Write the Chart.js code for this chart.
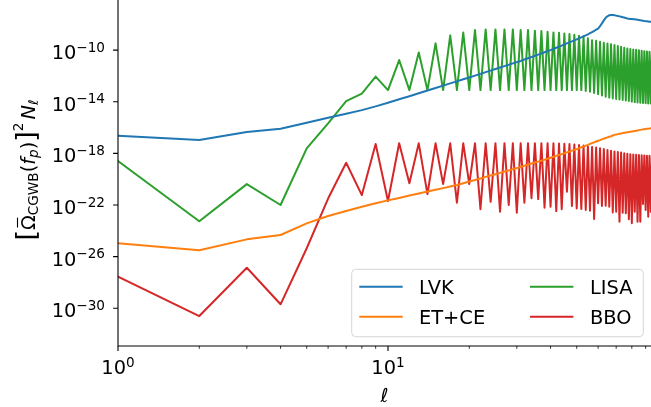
<!DOCTYPE html>
<html>
<head>
<meta charset="utf-8">
<script src="https://cdn.jsdelivr.net/npm/chart.js@4.4.1/dist/chart.umd.min.js"></script>
<style>
  body { margin: 0; background: #fff; }
  canvas { display: block; }
</style>
</head>
<body>
<canvas id="chart" width="651" height="407"></canvas>
<script>
// multipole ell
const ell = [
  1, 2, 3, 4, 5, 6, 7, 8, 9, 10,
  11, 12, 13, 14, 15, 16, 17, 18, 19, 20,
  21, 22, 23, 24, 25, 26, 27, 28, 29, 30,
  31, 32, 33, 34, 35, 36, 37, 38, 39, 40,
  41, 42, 43, 44, 45, 46, 47, 48, 49, 50,
  51, 52, 53, 54, 55, 56, 57, 58, 59, 60,
  61, 62, 63, 64, 65, 66, 67, 68, 69, 70,
  71, 72, 73, 74, 75, 76, 77, 78, 79, 80,
  81, 82, 83, 84, 85, 86, 87, 88, 89, 90,
  91, 92, 93, 94, 95
];

// log10 of [Omega_CGWB(f_p)]^2 N_ell, one value per ell
const lvkLog = [
  -16.64, -16.97, -16.35, -16.09, -15.63, -15.24, -14.93, -14.65, -14.36, -14.08,
  -13.81, -13.57, -13.34, -13.13, -12.94, -12.75, -12.58, -12.42, -12.26, -12.12,
  -11.98, -11.84, -11.71, -11.59, -11.47, -11.35, -11.24, -11.14, -11.03, -10.93,
  -10.84, -10.73, -10.63, -10.54, -10.44, -10.35, -10.26, -10.17, -10.08, -10.00,
  -9.91, -9.82, -9.73, -9.65, -9.56, -9.48, -9.40, -9.32, -9.25, -9.17,
  -9.08, -9.01, -8.93, -8.86, -8.78, -8.69, -8.60, -8.52, -8.42, -8.34,
  -8.15, -7.93, -7.70, -7.50, -7.38, -7.30, -7.28, -7.29, -7.31, -7.33,
  -7.36, -7.39, -7.42, -7.45, -7.48, -7.52, -7.55, -7.57, -7.59, -7.60,
  -7.61, -7.62, -7.63, -7.65, -7.67, -7.69, -7.71, -7.73, -7.75, -7.76,
  -7.77, -7.78, -7.80, -7.81, -7.82
];
const etceLog = [
  -24.97, -25.51, -24.66, -24.32, -23.42, -22.85, -22.47, -22.13, -21.87, -21.64,
  -21.45, -21.27, -21.11, -20.96, -20.82, -20.69, -20.57, -20.45, -20.31, -20.18,
  -20.06, -19.94, -19.82, -19.71, -19.61, -19.51, -19.41, -19.32, -19.23, -19.14,
  -19.05, -18.96, -18.87, -18.79, -18.71, -18.64, -18.56, -18.49, -18.41, -18.34,
  -18.26, -18.19, -18.12, -18.06, -17.99, -17.92, -17.86, -17.79, -17.73, -17.67,
  -17.60, -17.53, -17.47, -17.40, -17.34, -17.27, -17.20, -17.15, -17.08, -17.02,
  -16.97, -16.91, -16.86, -16.81, -16.76, -16.71, -16.67, -16.62, -16.57, -16.53,
  -16.51, -16.48, -16.46, -16.43, -16.41, -16.39, -16.37, -16.34, -16.32, -16.30,
  -16.28, -16.26, -16.24, -16.22, -16.20, -16.18, -16.16, -16.14, -16.13, -16.11,
  -16.10, -16.09, -16.08, -16.06, -16.05
];
const lisaLog = [
  -18.59, -23.26, -20.38, -22.00, -17.61, -15.68, -13.95, -13.37, -12.05, -13.10,
  -10.77, -13.10, -10.19, -13.10, -9.48, -13.10, -8.86, -13.10, -8.64, -13.10,
  -8.45, -13.10, -8.40, -13.10, -8.40, -13.10, -8.40, -13.10, -8.40, -13.10,
  -8.45, -13.10, -8.45, -13.10, -8.51, -13.10, -8.53, -13.10, -8.58, -13.10,
  -8.63, -13.10, -8.66, -13.10, -8.71, -13.10, -8.76, -13.10, -8.82, -13.10,
  -8.89, -13.10, -8.97, -13.17, -9.09, -13.23, -9.23, -13.33, -9.28, -13.41,
  -9.36, -13.52, -9.43, -13.62, -9.48, -13.68, -9.54, -13.74, -9.61, -13.79,
  -9.69, -13.83, -9.75, -13.87, -9.81, -13.91, -9.87, -13.95, -9.91, -13.99,
  -9.95, -14.03, -9.98, -14.05, -10.02, -14.08, -10.05, -14.10, -10.08, -14.11,
  -10.10, -14.13, -10.12, -14.13, -10.13
];
const bboLog = [
  -27.55, -30.60, -26.86, -29.69, -25.35, -21.50, -18.73, -21.23, -17.28, -21.69,
  -17.22, -20.32, -17.22, -21.15, -17.22, -20.38, -17.22, -21.82, -17.22, -20.38,
  -17.22, -22.33, -17.22, -21.75, -17.22, -22.52, -17.22, -22.00, -17.22, -22.60,
  -17.22, -21.82, -17.22, -21.48, -17.22, -21.54, -17.22, -22.21, -17.22, -22.13,
  -17.22, -22.47, -17.24, -22.33, -17.26, -20.97, -17.28, -22.08, -17.32, -22.26,
  -17.36, -22.31, -17.39, -22.39, -17.46, -22.44, -17.51, -23.09, -17.55, -21.87,
  -17.61, -22.08, -17.67, -22.06, -17.74, -22.13, -17.80, -22.57, -17.86, -22.52,
  -17.90, -23.29, -17.94, -22.60, -17.99, -22.64, -18.03, -23.11, -18.06, -23.42,
  -18.09, -22.52, -18.11, -23.29, -18.13, -23.29, -18.15, -21.92, -18.16, -22.39,
  -18.18, -22.91, -18.18, -22.52, -18.19
];

const seriesNames = ['LVK', 'ET+CE', 'LISA', 'BBO'];
const seriesColors = ['#1f77b4', '#ff7f0e', '#2ca02c', '#d62728'];

// axis ticks (exponents of 10 for the labelled ones)
const xTickExp = [0, 1];
const xMinorTicks = [2, 3, 4, 5, 6, 7, 8, 9, 20, 30, 40, 50, 60, 70, 80, 90];
const yTickExp = [-30, -26, -22, -18, -14, -10];

const FONT = '"DejaVu Sans", sans-serif';
const BIG = 19.4, SMALL = 13.6;

function toPoints(logs) {
  return ell.map((l, i) => ({ x: l, y: Math.pow(10, logs[i]) }));
}

function powerLabel(ctx, exp, x, y, align) {
  const base = '10';
  const sup = String(exp).replace('-', '\u2212');
  ctx.font = BIG + 'px ' + FONT;
  const wb = ctx.measureText(base).width;
  ctx.font = SMALL + 'px ' + FONT;
  const ws = ctx.measureText(sup).width;
  const left = align === 'right' ? x - wb - ws : x - (wb + ws) / 2;
  ctx.textAlign = 'left';
  ctx.textBaseline = 'alphabetic';
  ctx.font = BIG + 'px ' + FONT;
  ctx.fillText(base, left, y);
  ctx.font = SMALL + 'px ' + FONT;
  ctx.fillText(sup, left + wb, y - 7.5);
}

// y label pieces: [ Omega-bar _CGWB ( f _p ) ] ^2 N _ell
const yLabelRuns = [
  { t: '[', f: '27px ' + FONT, dy: 0 },
  { t: '\u03A9', f: BIG + 'px ' + FONT, dy: 0, bar: true },
  { t: 'CGWB', f: SMALL + 'px ' + FONT, dy: 2.5 },
  { t: '(', f: BIG + 'px ' + FONT, dy: 0 },
  { t: 'f', f: 'italic ' + BIG + 'px ' + FONT, dy: 0 },
  { t: 'p', f: 'italic ' + SMALL + 'px ' + FONT, dy: 2.5 },
  { t: ')', f: BIG + 'px ' + FONT, dy: 0 },
  { t: ']', f: '27px ' + FONT, dy: 0 },
  { t: '2', f: SMALL + 'px ' + FONT, dy: -12 },
  { t: 'N', f: 'italic ' + BIG + 'px ' + FONT, dy: 0, gap: 3 },
  { t: '\u2113', f: 'italic ' + SMALL + 'px ' + FONT, dy: 2.5 }
];

const decor = {
  id: 'decor',
  afterDraw(chart) {
    const ctx = chart.ctx;
    const xs = chart.scales.x, ys = chart.scales.y;
    const a = chart.chartArea;
    ctx.save();

    // spines (left + bottom only)
    ctx.strokeStyle = '#000';
    ctx.lineWidth = 1.1;
    ctx.beginPath();
    ctx.moveTo(a.left, a.top);
    ctx.lineTo(a.left, a.bottom);
    ctx.lineTo(a.right, a.bottom);
    ctx.stroke();

    // x ticks
    ctx.beginPath();
    xTickExp.forEach(e => {
      const px = xs.getPixelForValue(Math.pow(10, e));
      ctx.moveTo(px, a.bottom);
      ctx.lineTo(px, a.bottom + 4.9);
    });
    ctx.stroke();
    ctx.lineWidth = 0.8;
    ctx.beginPath();
    xMinorTicks.forEach(v => {
      const px = xs.getPixelForValue(v);
      ctx.moveTo(px, a.bottom);
      ctx.lineTo(px, a.bottom + 2.8);
    });
    ctx.stroke();

    // y ticks
    ctx.lineWidth = 1.1;
    ctx.beginPath();
    yTickExp.forEach(e => {
      const py = ys.getPixelForValue(Math.pow(10, e));
      ctx.moveTo(a.left - 4.9, py);
      ctx.lineTo(a.left, py);
    });
    ctx.stroke();

    // tick labels
    ctx.fillStyle = '#000';
    xTickExp.forEach(e => {
      powerLabel(ctx, e, xs.getPixelForValue(Math.pow(10, e)), a.bottom + 28, 'center');
    });
    yTickExp.forEach(e => {
      powerLabel(ctx, e, a.left - 13, ys.getPixelForValue(Math.pow(10, e)) + 9, 'right');
    });

    // x label
    ctx.font = 'italic ' + BIG + 'px ' + FONT;
    ctx.textAlign = 'center';
    ctx.fillText('\u2113', (a.left + a.right) / 2, 401.5);

    // y label (rotated)
    let total = 0;
    yLabelRuns.forEach(r => {
      ctx.font = r.f;
      r.w = ctx.measureText(r.t).width;
      total += r.w + (r.gap || 0);
    });
    ctx.save();
    ctx.translate(35, (a.top + a.bottom) / 2 - 3);
    ctx.rotate(-Math.PI / 2);
    ctx.textAlign = 'left';
    let cx = -total / 2;
    yLabelRuns.forEach(r => {
      cx += r.gap || 0;
      ctx.font = r.f;
      ctx.fillText(r.t, cx, r.dy);
      if (r.bar) {
        ctx.lineWidth = 1.1;
        ctx.beginPath();
        ctx.moveTo(cx + 2.5, -17.5);
        ctx.lineTo(cx + r.w - 2.5, -17.5);
        ctx.stroke();
      }
      cx += r.w;
    });
    ctx.restore();

    // legend (two columns)
    const lx = 351.7, ly = 269.3, lw = 291.6, lh = 67.4;
    ctx.beginPath();
    ctx.roundRect(lx, ly, lw, lh, 4);
    ctx.fillStyle = 'rgba(255,255,255,0.8)';
    ctx.fill();
    ctx.strokeStyle = '#d6d6d6';
    ctx.lineWidth = 1;
    ctx.stroke();
    const cols = [{ x0: 359.3, tx: 419 }, { x0: 530, tx: 590 }];
    const rows = [286.7, 316.7];
    chart.data.datasets.forEach((ds, i) => {
      const c = cols[Math.floor(i / 2)], y = rows[i % 2];
      ctx.strokeStyle = ds.borderColor;
      ctx.lineWidth = 2;
      ctx.beginPath();
      ctx.moveTo(c.x0, y);
      ctx.lineTo(c.x0 + 43.4, y);
      ctx.stroke();
      ctx.fillStyle = '#000';
      ctx.font = BIG + 'px ' + FONT;
      ctx.textAlign = 'left';
      ctx.fillText(ds.label, c.tx, y + 7.3);
    });

    ctx.restore();
  }
};

const ctx = document.getElementById('chart').getContext('2d');
const chart = new Chart(ctx, {
  type: 'line',
  data: {
    datasets: [
      { label: seriesNames[0], data: toPoints(lvkLog), borderColor: seriesColors[0], order: 0 },
      { label: seriesNames[1], data: toPoints(etceLog), borderColor: seriesColors[1], order: 0 },
      { label: seriesNames[2], data: toPoints(lisaLog), borderColor: seriesColors[2], order: 1 },
      { label: seriesNames[3], data: toPoints(bboLog), borderColor: seriesColors[3], order: 1 }
    ]
  },
  options: {
    responsive: false,
    animation: false,
    events: [],
    layout: { padding: { left: 118, right: 0, top: 0, bottom: 61 } },
    elements: {
      line: { borderWidth: 2, tension: 0, borderJoinStyle: 'round', borderCapStyle: 'square', fill: false },
      point: { radius: 0 }
    },
    scales: {
      x: { type: 'logarithmic', display: false, min: 1, max: Math.pow(10, 1.9741) },
      y: { type: 'logarithmic', display: false, min: Math.pow(10, -32.92), max: Math.pow(10, -6.12) }
    },
    plugins: {
      legend: { display: false },
      tooltip: { enabled: false }
    }
  },
  plugins: [decor]
});
</script>
</body>
</html>
